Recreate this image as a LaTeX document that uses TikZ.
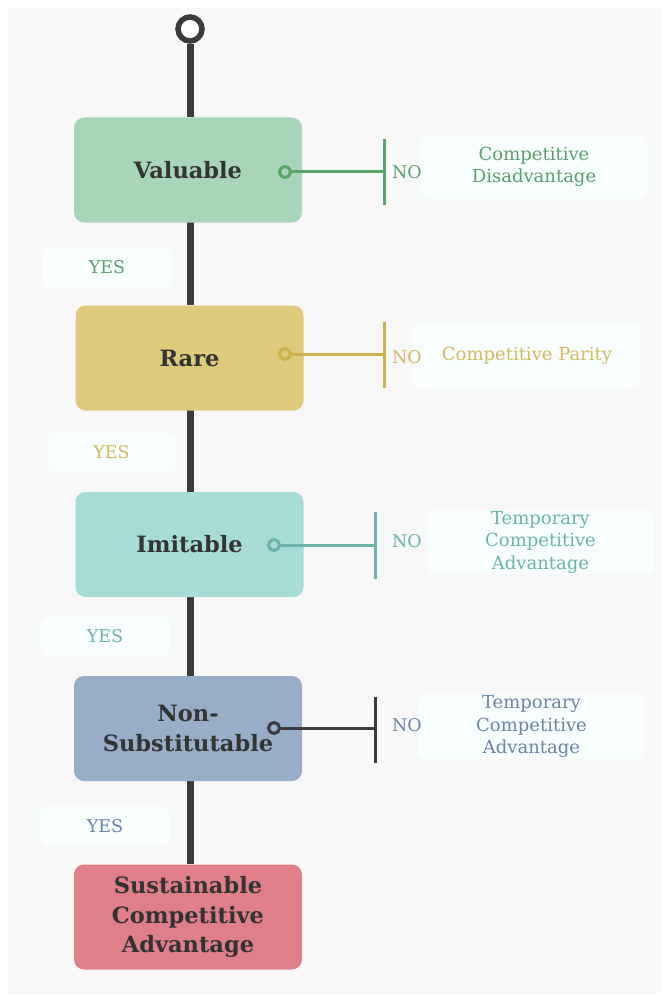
\documentclass[tikz,border=0pt]{standalone}
\usepackage{fontspec}
\setmainfont{DejaVu Serif}
\usetikzlibrary{backgrounds}
\definecolor{bggray}{HTML}{F8F8F9}
\definecolor{lblfill}{HTML}{F8FEFE}
\definecolor{spine}{HTML}{3A3B3F}
\definecolor{titletext}{HTML}{333333}
\definecolor{gbox}{HTML}{A8D5B7}\definecolor{gline}{HTML}{5BA56A}\definecolor{gtext}{HTML}{5E9E6C}
\definecolor{ybox}{HTML}{DDCA7A}\definecolor{yline}{HTML}{CDB14E}\definecolor{ytext}{HTML}{D3BA60}
\definecolor{tbox}{HTML}{A7DCD6}\definecolor{tline}{HTML}{6DB3AC}\definecolor{ttext}{HTML}{6DB3AC}
\definecolor{bbox}{HTML}{97ADC8}\definecolor{bline}{HTML}{3A3B3F}\definecolor{btext}{HTML}{6D84A8}
\definecolor{rbox}{HTML}{E07F8A}
\tikzset{
  stage/.style={rounded corners=10pt, minimum width=228pt, minimum height=105pt,
    inner sep=0pt, align=center, text=titletext,
    font=\fontsize{22.5}{29.5}\selectfont\bfseries},
  result/.style={rounded corners=10pt, fill=lblfill, minimum width=227pt, minimum height=64pt,
    inner sep=0pt, align=center, font=\fontsize{18}{22.5}\selectfont},
  yeslbl/.style={rounded corners=10pt, fill=lblfill, minimum width=130pt, minimum height=41pt,
    inner sep=0pt, font=\fontsize{17.5}{20}\selectfont},
  nolbl/.style={inner sep=0pt, font=\fontsize{17.5}{20}\selectfont},
  dot/.style={circle, line width=3pt, minimum size=11pt, inner sep=0pt},
  barline/.style={minimum width=3pt, inner sep=0pt},
  link/.style={line width=3pt},
  spineline/.style={line width=7pt, draw=spine},
}
\begin{document}
\begin{tikzpicture}[x=1pt, y=-1pt]
\useasboundingbox (0,0) rectangle (666,995);
\begin{scope}[on background layer]
  \fill[bggray] (8,8) rectangle (662,993);
\end{scope}

% start marker
\node[circle, draw=spine, line width=5.5pt, fill=white, minimum size=24pt, inner sep=0pt] (start) at (190,29) {};

% stages
\node[stage, fill=gbox] (val) at (188,170) {Valuable};
\node[stage, fill=ybox] (rare) at (189.5,358) {Rare};
\node[stage, fill=tbox] (imit) at (189.5,544.5) {Imitable};
\node[stage, fill=bbox] (nsub) at (188,728.5) {Non-\\Substitutable};
\node[stage, fill=rbox] (sust) at (188,917) {Sustainable\\Competitive\\Advantage};

% spine
\begin{scope}[on background layer]
  \draw[spineline] (start.south) -- (190,117);
  \draw[spineline] (190,222) -- (190,305);
  \draw[spineline] (190,410) -- (190,492);
  \draw[spineline] (190,597) -- (190,676);
  \draw[spineline] (190,781) -- (190,864);
\end{scope}

% YES labels
\node[yeslbl, text=gtext] (y1) at (107,267.5) {YES};
\node[yeslbl, text=ytext] (y2) at (111.5,452.5) {YES};
\node[yeslbl, text=ttext] (y3) at (105,636.5) {YES};
\node[yeslbl, text=btext] (y4) at (105,826) {YES};

% result boxes
\node[result, text=gtext] (r1) at (534,167) {Competitive\\Disadvantage};
\node[result, text=ytext, minimum width=228pt] (r2) at (527,355.5) {Competitive Parity};
\node[result, text=ttext, minimum height=65pt] (r3) at (540.5,542) {Temporary\\Competitive\\Advantage};
\node[result, text=btext, minimum height=65pt] (r4) at (531.5,726.5) {Temporary\\Competitive\\Advantage};

% NO branches
\node[dot, draw=gline, fill=gbox] (d1) at (285,172) {};
\node[barline, minimum height=66pt, fill=gline] (b1) at (384,172) {};
\draw[link, draw=gline] (d1.east) -- (b1.center |- d1.east);
\node[nolbl, text=gtext] (n1) at (407,172) {NO};

\node[dot, draw=yline, fill=ybox] (d2) at (285,354) {};
\node[barline, minimum height=66pt, fill=yline] (b2) at (384,355) {};
\draw[link, draw=yline] (d2.east) -- (b2.center |- d2.east);
\node[nolbl, text=ytext] (n2) at (407,357) {NO};

\node[dot, draw=tline, fill=tbox] (d3) at (274,545) {};
\node[barline, minimum height=67pt, fill=tline] (b3) at (375,545.5) {};
\draw[link, draw=tline] (d3.east) -- (b3.center |- d3.east);
\node[nolbl, text=ttext] (n3) at (407,541) {NO};

\node[dot, draw=bline, fill=bbox] (d4) at (274,728) {};
\node[barline, minimum height=66pt, fill=bline] (b4) at (375,730) {};
\draw[link, draw=bline] (d4.east) -- (b4.center |- d4.east);
\node[nolbl, text=btext] (n4) at (407,725) {NO};
\end{tikzpicture}
\end{document}
